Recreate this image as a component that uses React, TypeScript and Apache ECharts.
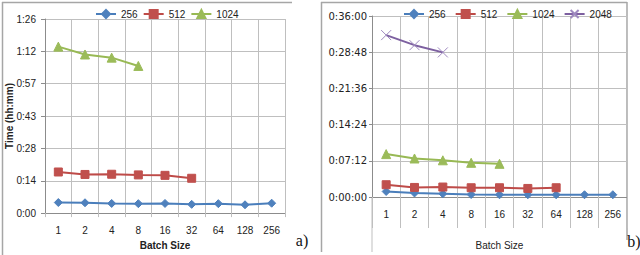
import React, { useEffect, useRef } from "react";
import * as echarts from "echarts";

const batchSizes = ["1", "2", "4", "8", "16", "32", "64", "128", "256"];
const seriesNamesA = ["256", "512", "1024"];
const seriesNamesB = ["256", "512", "1024", "2048"];

// Chart a) values in minutes
const a256 = [4.7, 4.6, 4.3, 4.2, 4.3, 3.9, 4.2, 3.7, 4.4];
const a512 = [18.3, 17.2, 17.3, 17.0, 16.8, 15.5];
const a1024 = [74.1, 70.6, 69.2, 65.5];

// Chart b) values in minutes
const b256 = [1.1, 0.8, 0.65, 0.5, 0.45, 0.45, 0.45, 0.45, 0.45];
const b512 = [2.44, 1.9, 1.98, 1.84, 1.84, 1.7, 1.84];
const b1024 = [8.53, 7.66, 7.3, 6.8, 6.6];
const b2048 = [32.2, 30.2, 28.76];

const colors = {
  "256": { line: "#4A7EBB", mark: "#4F81BD", symbol: "diamond", size: 8 },
  "512": { line: "#BE4B48", mark: "#C0504D", symbol: "rect", size: 8 },
  "1024": { line: "#98B954", mark: "#9BBB59", symbol: "triangle", size: 9 },
  "2048": { line: "#7D60A0", mark: "#8064A2", symbol: "path://M0,0L10,10M10,0L0,10", size: 10 },
};

const FONT = "Liberation Sans";
const TXT = "#222";
const GRIDC = "#BFBFBF";
const AXISC = "#8C8C8C";
const FRAME = "#A6A6A6";

function fmtHM(v: number) {
  const m = Math.floor(v + 1e-6);
  const h = Math.floor(m / 60);
  const mm = m % 60;
  return h + ":" + String(mm).padStart(2, "0");
}
function fmtHMS(v: number) {
  const s = Math.round(v * 60);
  const h = Math.floor(s / 3600);
  const mm = Math.floor((s % 3600) / 60);
  const ss = s % 60;
  return h + ":" + String(mm).padStart(2, "0") + ":" + String(ss).padStart(2, "0");
}

function mkSeries(name: string, data: number[], idx: number) {
  const c = (colors as any)[name];
  const isX = name === "2048";
  return {
    type: "line",
    name,
    data,
    xAxisIndex: idx,
    yAxisIndex: idx,
    symbol: c.symbol,
    symbolSize: c.size,
    showSymbol: true,
    lineStyle: { color: c.line, width: 2 },
    itemStyle: isX
      ? { color: "rgba(0,0,0,0)", borderColor: "#9F8AC0", borderWidth: 1 }
      : { color: c.mark, borderColor: c.mark, borderWidth: 1 },
    z: 3,
  };
}

export default function App() {
  const ref = useRef<HTMLDivElement>(null);
  useEffect(() => {
    if (!ref.current) return;
    const chart = echarts.init(ref.current, undefined, { renderer: "svg" });
    const xAxisCommon = (tickLen: number) => ({
      type: "category",
      data: batchSizes,
      boundaryGap: true,
      axisLine: { show: true, lineStyle: { color: AXISC, width: 1 } },
      axisTick: { show: true, length: tickLen, lineStyle: { color: GRIDC } },
      splitLine: { show: true, lineStyle: { color: GRIDC, width: 1 } },
      axisLabel: { color: TXT, fontFamily: FONT, fontSize: 10, margin: 12 },
      nameLocation: "middle",
    });
    chart.setOption({
      animation: false,
      textStyle: { fontFamily: FONT },
      legend: [
        {
          data: seriesNamesA,
          left: 90,
          top: 4,
          itemWidth: 20,
          itemHeight: 10,
          itemGap: 5,
          textStyle: { fontFamily: FONT, fontSize: 10, color: TXT },
        },
        {
          data: seriesNamesB,
          left: 398,
          top: 4,
          itemWidth: 20,
          itemHeight: 10,
          itemGap: 9,
          textStyle: { fontFamily: FONT, fontSize: 10, color: TXT },
        },
      ],
      grid: [
        { left: 45, right: 355, top: 19, bottom: 35 },
        { left: 372, right: 13, top: 16, bottom: 58 },
      ],
      xAxis: [
        {
          ...xAxisCommon(4),
          gridIndex: 0,
          name: "Batch Size",
          nameGap: 20,
          nameTextStyle: { fontFamily: FONT, fontSize: 10, fontWeight: "bold", color: TXT },
        },
        {
          ...xAxisCommon(31),
          gridIndex: 1,
          name: "Batch Size",
          nameGap: 43,
          nameTextStyle: { fontFamily: FONT, fontSize: 10, color: TXT },
        },
      ],
      yAxis: [
        {
          type: "value",
          gridIndex: 0,
          min: 0,
          max: 86.4,
          interval: 14.4,
          axisLine: { show: true, lineStyle: { color: AXISC } },
          axisTick: { show: true, length: 4, lineStyle: { color: AXISC } },
          splitLine: { show: true, lineStyle: { color: GRIDC } },
          axisLabel: { color: TXT, fontFamily: FONT, fontSize: 10, margin: 9, formatter: fmtHM },
        },
        {
          type: "value",
          gridIndex: 1,
          min: 0,
          max: 36,
          interval: 7.2,
          axisLine: { show: true, lineStyle: { color: AXISC } },
          axisTick: { show: true, length: 3, lineStyle: { color: AXISC } },
          splitLine: { show: true, lineStyle: { color: GRIDC } },
          axisLabel: { color: TXT, fontFamily: "DejaVu Sans", fontSize: 10, margin: 5, formatter: fmtHMS },
        },
      ],
      series: [
        mkSeries("256", a256, 0),
        mkSeries("512", a512, 0),
        mkSeries("1024", a1024, 0),
        mkSeries("256", b256, 1),
        mkSeries("512", b512, 1),
        mkSeries("1024", b1024, 1),
        mkSeries("2048", b2048, 1),
      ],
      graphic: [
        { type: "line", shape: { x1: 2.5, y1: 2, x2: 2.5, y2: 255 }, style: { stroke: FRAME, lineWidth: 1.5 } },
        { type: "line", shape: { x1: 2, y1: 2.5, x2: 292, y2: 2.5 }, style: { stroke: FRAME, lineWidth: 1.5 } },
        { type: "line", shape: { x1: 321.5, y1: 2, x2: 321.5, y2: 252 }, style: { stroke: FRAME, lineWidth: 1.5 } },
        { type: "line", shape: { x1: 321, y1: 2.5, x2: 627, y2: 2.5 }, style: { stroke: FRAME, lineWidth: 1.5 } },
        { type: "line", shape: { x1: 627, y1: 2, x2: 627, y2: 240 }, style: { stroke: FRAME, lineWidth: 1.5 } },
        { type: "line", shape: { x1: 372, y1: 197, x2: 372, y2: 252 }, style: { stroke: GRIDC, lineWidth: 1 } },
        {
          type: "text",
          x: 9,
          y: 116,
          rotation: Math.PI / 2,
          style: {
            text: "Time (hh:mm)",
            fontFamily: FONT,
            fontSize: 10,
            fontWeight: "bold",
            fill: TXT,
            align: "center",
            verticalAlign: "middle",
          },
        },
        {
          type: "text",
          x: 302,
          y: 240,
          style: { text: "a)", fontFamily: "Liberation Serif", fontSize: 16, fill: "#111", align: "center", verticalAlign: "middle" },
        },
        {
          type: "text",
          x: 634,
          y: 241,
          style: { text: "b)", fontFamily: "Liberation Serif", fontSize: 16, fill: "#111", align: "center", verticalAlign: "middle" },
        },
      ],
    });
    return () => chart.dispose();
  }, []);
  return (
    <div
      ref={ref}
      style={{ position: "fixed", left: 0, top: 0, width: 640, height: 255, background: "#fff" }}
    />
  );
}
